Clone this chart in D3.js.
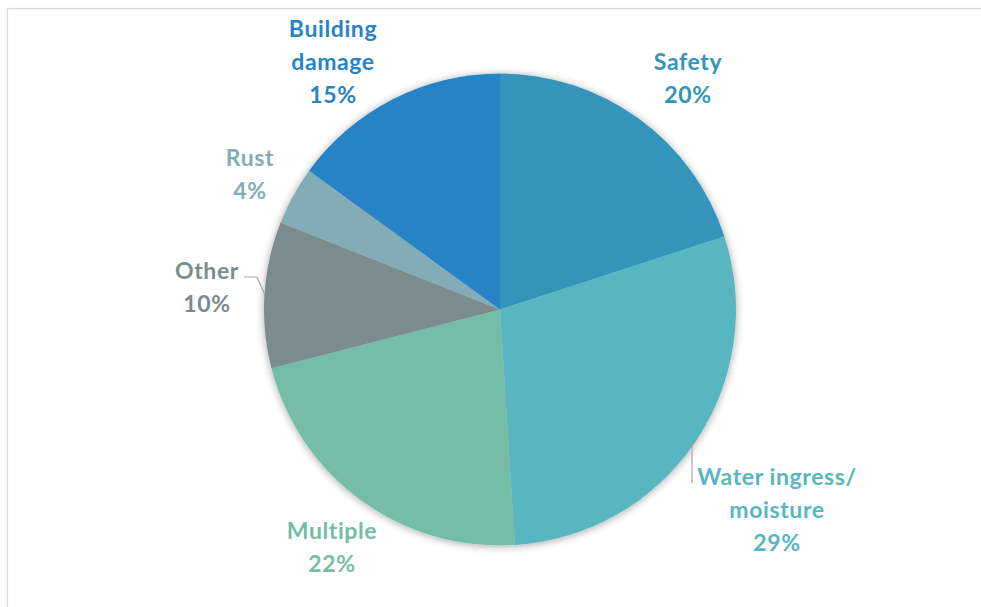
<!DOCTYPE html>
<html><head><meta charset="utf-8">
<script src="https://cdn.jsdelivr.net/npm/d3@7"></script>
<style>html,body{margin:0;padding:0;background:#fff;overflow:hidden}</style>
</head><body>
<svg id="chart" width="981" height="607"></svg>
<script>
const categories = ["Safety", "Water ingress/moisture", "Multiple", "Other", "Rust", "Building damage"];
const values = [20, 29, 22, 10, 4, 15];
const colors = ["#3494BA", "#58B6C0", "#75BDA7", "#7A8C8E", "#84ACB6", "#2683C6"];
const labelLines = [["Safety"], ["Water ingress/", "moisture"], ["Multiple"], ["Other"], ["Rust"], ["Building", "damage"]];
// label anchor positions (center of first line)
const labelPos = [[688, 62], [777, 477], [332, 531], [207, 271], [250, 158], [333, 29]];

const svg = d3.select("#chart");
svg.append("rect").attr("x", 7.5).attr("y", 8.5).attr("width", 990).attr("height", 620)
  .attr("fill", "#fff").attr("stroke", "#d9d9d9").attr("stroke-width", 1.2);

const defs = svg.append("defs");
const f = defs.append("filter").attr("id", "sh").attr("x", "-20%").attr("y", "-20%").attr("width", "140%").attr("height", "140%");
f.append("feGaussianBlur").attr("in", "SourceAlpha").attr("stdDeviation", 4).attr("result", "b");
f.append("feOffset").attr("in", "b").attr("dx", 0).attr("dy", 1).attr("result", "o");
f.append("feComponentTransfer").attr("in", "o").attr("result", "o2")
  .append("feFuncA").attr("type", "linear").attr("slope", 0.35);
const m = f.append("feMerge");
m.append("feMergeNode").attr("in", "o2");
m.append("feMergeNode").attr("in", "SourceGraphic");

const cx = 500, cy = 309.5, r = 236;
const data = categories.map((c, i) => ({c, v: values[i], i}));
const pie = d3.pie().value(d => d.v).sort(null);
const arc = d3.arc().innerRadius(0).outerRadius(r);
const g = svg.append("g").attr("transform", `translate(${cx},${cy})`).attr("filter", "url(#sh)");
g.selectAll("path").data(pie(data)).join("path")
  .attr("d", arc).attr("fill", d => colors[d.data.i]);

// leader lines
const lines = [
  [[244, 277], [257, 277], [265, 295]],
  [[692, 443], [692, 483]]
];
svg.selectAll("polyline").data(lines).join("polyline")
  .attr("points", d => d.map(p => p.join(",")).join(" "))
  .attr("fill", "none").attr("stroke", "#a6a6a6").attr("stroke-width", 1.2);

const lh = 33;
data.forEach((d, i) => {
  const t = svg.append("text").attr("text-anchor", "middle")
    .attr("font-family", "Lato, 'Open Sans', sans-serif").attr("font-weight", "bold")
    .attr("font-size", 23).attr("letter-spacing", 0.6).attr("fill", colors[i]);
  const ls = labelLines[i].concat([d.v + "%"]);
  ls.forEach((s, k) => {
    t.append("tspan").attr("x", labelPos[i][0]).attr("y", labelPos[i][1] + k * lh)
      .attr("dy", "0.35em").text(s);
  });
});
</script>
</body></html>
